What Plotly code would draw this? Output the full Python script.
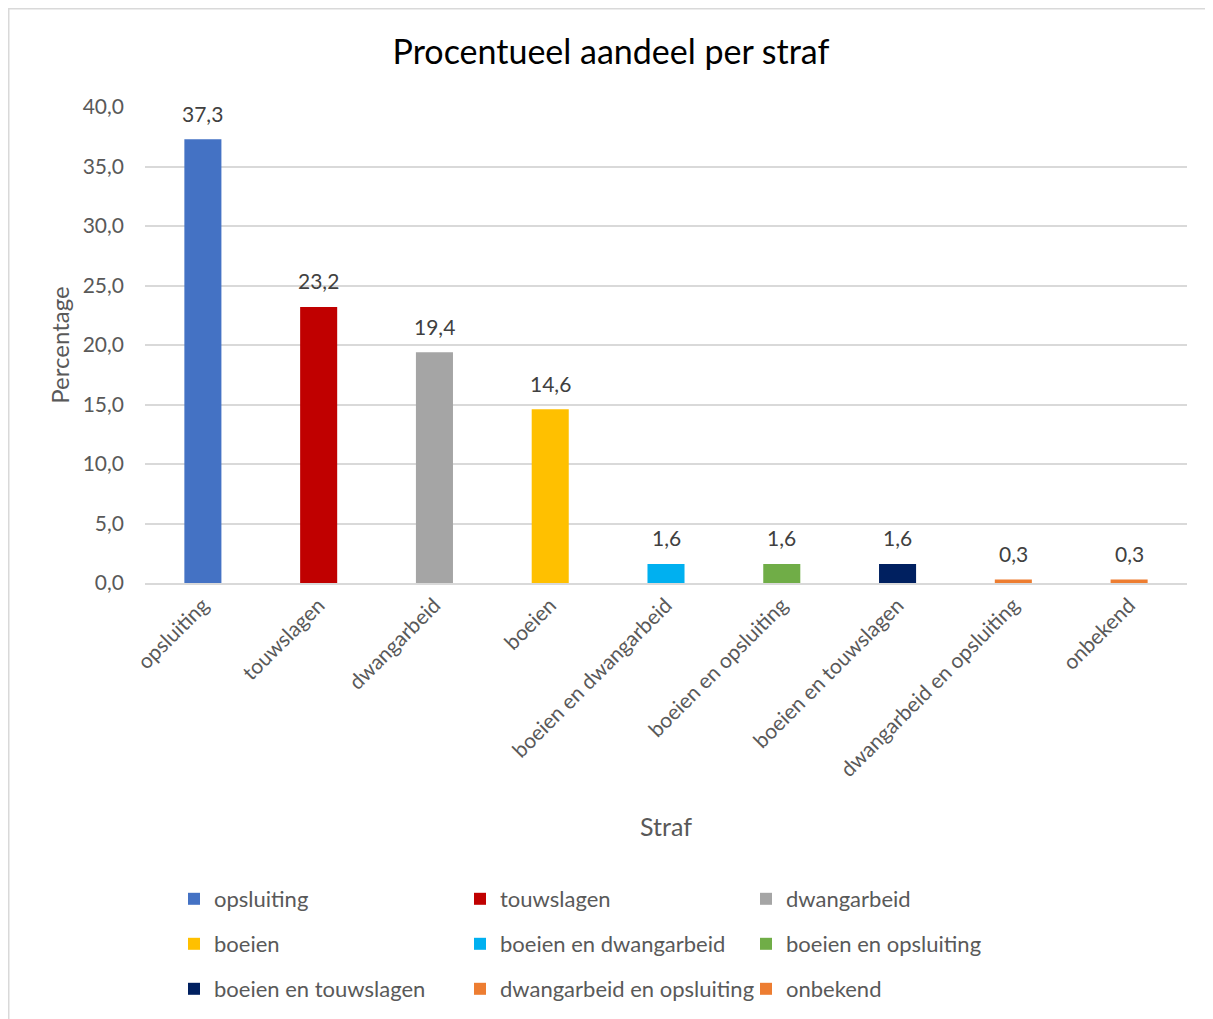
import plotly.graph_objects as go

categories = ["opsluiting", "touwslagen", "dwangarbeid", "boeien",
              "boeien en dwangarbeid", "boeien en opsluiting",
              "boeien en touwslagen", "dwangarbeid en opsluiting", "onbekend"]
values = [37.3, 23.2, 19.4, 14.6, 1.6, 1.6, 1.6, 0.3, 0.3]
colors = ["#4472C4", "#C00000", "#A5A5A5", "#FFC000", "#00B0F0",
          "#70AD47", "#002060", "#ED7D31", "#ED7D31"]
y_ticks = [0, 5, 10, 15, 20, 25, 30, 35, 40]

FONT = "Lato, 'Open Sans', sans-serif"
TXT = "#595959"

W, H = 1205, 1011
ML, MR, MT, MB = 137, 26, 99, 436
PW, PH = W - ML - MR, H - MT - MB

fig = go.Figure()
legend_ids = ["legend", "legend", "legend", "legend2", "legend2", "legend2",
              "legend3", "legend3", "legend3"]
for cat, val, col, lg in zip(categories, values, colors, legend_ids):
    fig.add_trace(go.Bar(
        x=[cat], y=[val], name=cat, marker_color=col, marker_line_width=0,
        width=0.32, legend=lg,
    ))

annotations = [dict(x=cat, y=val, xref="x", yref="y", text=f"{val:.1f}".replace(".", ","),
                    showarrow=False, yanchor="middle", yshift=26,
                    font=dict(size=21, color="#404040", family=FONT))
               for cat, val in zip(categories, values)]

legend_common = dict(orientation="h", xref="container", yref="container",
                     xanchor="left", yanchor="middle", entrywidth=241,
                     entrywidthmode="pixels", font=dict(size=22, color=TXT, family=FONT),
                     bgcolor="rgba(0,0,0,0)", itemwidth=30, tracegroupgap=0)

fig.update_layout(
    width=W, height=H,
    paper_bgcolor="white", plot_bgcolor="white",
    separators=", ",
    barmode="overlay",
    margin=dict(l=ML, r=MR, t=MT, b=MB),
    title=dict(text="Procentueel aandeel per straf", x=603 / W, xref="container",
               y=1 - 44 / H, yref="container", xanchor="center", yanchor="middle",
               font=dict(size=34, color="#000000", family=FONT)),
    font=dict(family=FONT, color=TXT),
    showlegend=True,
    legend=dict(x=166 / W, y=1 - 891 / H, **legend_common),
    legend2=dict(x=166 / W, y=1 - 936 / H, **legend_common),
    legend3=dict(x=166 / W, y=1 - 981 / H, **legend_common),
    annotations=annotations,
    xaxis=dict(categoryorder="array", categoryarray=categories, tickangle=-45,
               tickfont=dict(size=21, color=TXT, family=FONT), showgrid=False,
               showline=True, linecolor="#D9D9D9", linewidth=1.5, ticks="",
               title=dict(text="Straf", font=dict(size=25, color=TXT, family=FONT),
                          standoff=38)),
    yaxis=dict(range=[0, 40], tickvals=y_ticks, tickformat=".1f",
               tickfont=dict(size=21, color=TXT, family=FONT),
               gridcolor="#D9D9D9", gridwidth=1.5, zeroline=False, ticks="",
               ticklabelstandoff=20,
               title=dict(text="Percentage", font=dict(size=24, color=TXT, family=FONT),
                          standoff=6)),
    shapes=[dict(type="rect", xref="paper", yref="paper",
                 x0=(0.75 - ML) / PW, x1=(W + 20 - ML) / PW,
                 y0=(MT + PH - H - 20) / PH, y1=(MT + PH - 0.75) / PH,
                 line=dict(color="#D9D9D9", width=1.5), fillcolor="rgba(0,0,0,0)",
                 layer="below")],
)

fig.write_html("out.html")
